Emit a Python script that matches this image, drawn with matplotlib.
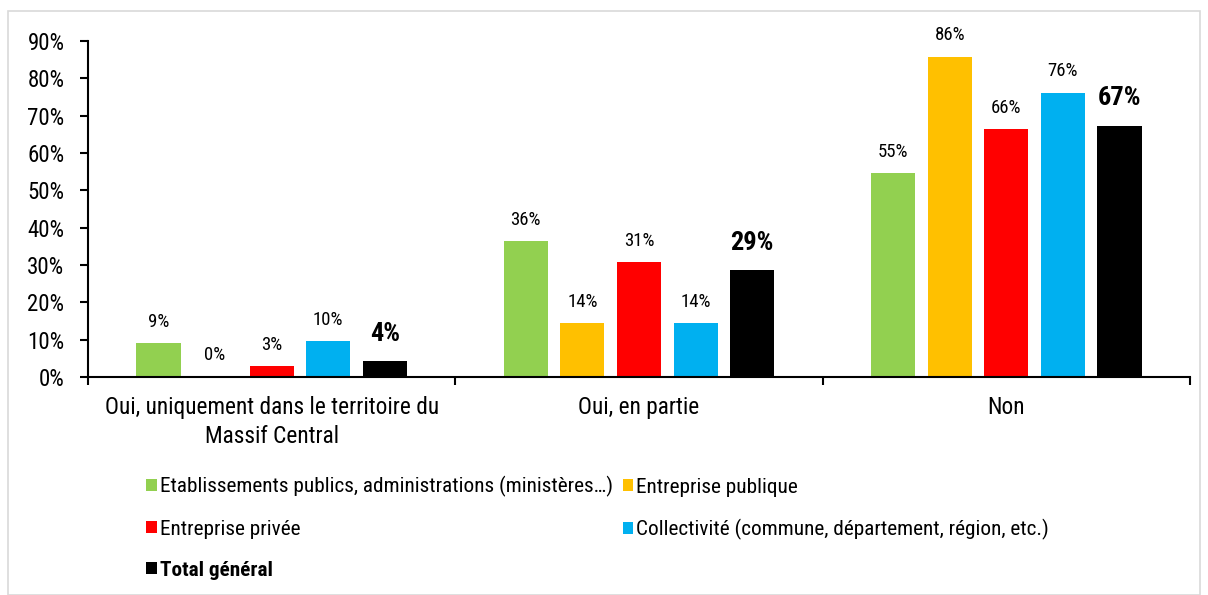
import matplotlib.pyplot as plt
from matplotlib.patches import Rectangle
import numpy as np

plt.rcParams["font.family"] = ["Roboto Condensed", "Liberation Sans Narrow", "Roboto", "DejaVu Sans"]

categories = ["Oui, uniquement dans le territoire du\nMassif Central", "Oui, en partie", "Non"]
series = [
    "Etablissements publics, administrations (ministères…)",
    "Entreprise publique",
    "Entreprise privée",
    "Collectivité (commune, département, région, etc.)",
    "Total général",
]
colors = ["#92D050", "#FFC000", "#FF0000", "#00B0F0", "#000000"]
values = [
    [9.1, 36.4, 54.6],
    [0.0, 14.4, 85.8],
    [2.9, 30.8, 66.3],
    [9.6, 14.4, 76.2],
    [4.3, 28.6, 67.3],
]
labels = [
    ["9%", "36%", "55%"],
    ["0%", "14%", "86%"],
    ["3%", "31%", "66%"],
    ["10%", "14%", "76%"],
    ["4%", "29%", "67%"],
]

fig = plt.figure(figsize=(12.08, 5.95), dpi=100)
fig.patches.append(Rectangle((8 / 1208, 0), 1192 / 1208, 584 / 595, transform=fig.transFigure,
                             fill=False, edgecolor="#d9d9d9", linewidth=1.2))
ax = fig.add_axes([88 / 1208, 1 - 377 / 595, (1190 - 88) / 1208, (377 - 41) / 595])

x = np.arange(len(categories))
step = 0.154
width = 0.12
handles = []
for i, (name, col, vals, labs) in enumerate(zip(series, colors, values, labels)):
    pos = x + (i - 2) * step
    b = ax.bar(pos, np.array(vals) / 100, width, color=col, label=name)
    handles.append(b)
    total = i == 4
    for p, v, t in zip(pos, vals, labs):
        ax.annotate(t, (p, v / 100), xytext=(0, 11 if total else 9), textcoords="offset points",
                    ha="center", va="bottom",
                    fontsize=19 if total else 13.5, fontweight="bold" if total else "normal")

ax.set_ylim(0, 0.9)
ax.set_xlim(-0.5, 2.5)
ax.set_yticks(np.arange(0, 0.91, 0.1))
ax.set_yticklabels([f"{int(round(v * 100))}%" for v in np.arange(0, 0.91, 0.1)], fontsize=16.5)
ax.set_xticks(x)
ax.set_xticklabels(categories, fontsize=16.8, linespacing=1.3)
ax.set_xticks([-0.5, 0.5, 1.5, 2.5], minor=True)
ax.tick_params(axis="x", which="major", length=0, pad=14)
ax.tick_params(axis="x", which="minor", length=6, width=1.5, direction="out")
ax.tick_params(axis="y", length=6, width=1.5, direction="out", pad=11)
for s in ["top", "right"]:
    ax.spines[s].set_visible(False)
for s in ["left", "bottom"]:
    ax.spines[s].set_linewidth(1.5)

# legend: two columns, filled column-wise, so reorder to match the row layout
order = [0, 2, 4, 1, 3]
leg = fig.legend([handles[k] for k in order], [series[k] for k in order], ncol=2,
                 loc="upper left", bbox_to_anchor=(127 / 1208, 1 - 457 / 595),
                 frameon=False, fontsize=15.3, handlelength=0.5, handleheight=0.5,
                 handletextpad=0.15, labelspacing=1.05, columnspacing=0.45)
for t in leg.get_texts():
    if t.get_text() == "Total général":
        t.set_fontweight("bold")

fig.savefig("out.png", dpi=100)
